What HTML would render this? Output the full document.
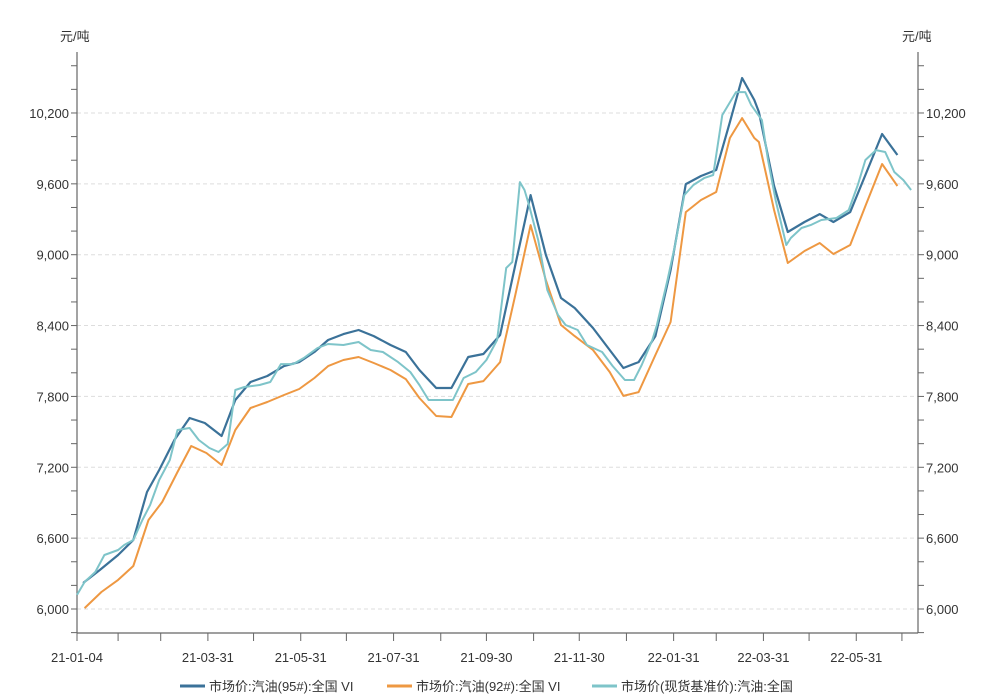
<!DOCTYPE html>
<html><head><meta charset="utf-8"><style>
body{margin:0;background:#fff;}
svg{display:block;font-family:"Liberation Sans","Noto Sans CJK SC",sans-serif;}
</style></head><body>
<svg id="chart" width="1000" height="699">
<text x="60" y="41" font-size="13" fill="#333">元/吨</text>
<text x="902" y="41" font-size="13" fill="#333">元/吨</text>
<g id="grid"></g><g id="axes"></g><g id="series"></g>
<g font-size="13" fill="#333">
<g><line x1="180" y1="686" x2="205" y2="686" stroke="#3b7299" stroke-width="3"/><text x="209" y="691">市场价:汽油(95#):全国 VI</text></g>
<g><line x1="387" y1="686" x2="412" y2="686" stroke="#ee9842" stroke-width="3"/><text x="416" y="691">市场价:汽油(92#):全国 VI</text></g>
<g><line x1="592" y1="686" x2="617" y2="686" stroke="#7ec4c9" stroke-width="3"/><text x="621" y="691">市场价(现货基准价):汽油:全国</text></g>
</g>
</svg>
<script>
const yTicks=[6000,6600,7200,7800,8400,9000,9600,10200];
const xTickLabels=["21-01-04","21-03-31","21-05-31","21-07-31","21-09-30","21-11-30","22-01-31","22-03-31","22-05-31"];
const xTickDays=[0,86,147,208,269,330,392,451,512];
const monthEndDays=[0,27,55,86,116,147,177,208,239,269,300,330,361,392,420,451,481,512,542];
const days95=[4,15,27,37,46,54,64,74,84,95,104,114,125,136,146,156,165,175,185,195,206,216,225,236,246,257,267,278,288,298,308,318,327,339,350,359,369,380,390,400,410,420,429,437,445,448,458,467,478,488,497,508,518,529,539];
const vals95=[6220,6330,6457,6584,6991,7177,7431,7617,7575,7465,7770,7922,7973,8057,8091,8176,8278,8328,8362,8311,8235,8176,8024,7871,7871,8134,8159,8320,8913,9505,9000,8633,8549,8379,8193,8041,8091,8311,8870,9598,9666,9717,10123,10496,10310,10208,9582,9192,9277,9344,9277,9361,9675,10022,9844];
const days92=[5,16,27,37,47,56,66,75,85,95,104,114,125,136,146,156,165,175,185,195,206,216,225,236,246,257,267,278,288,298,308,318,327,339,350,359,369,380,390,400,410,420,429,437,445,448,458,467,478,488,497,508,518,529,539];
const vals92=[6008,6144,6246,6364,6754,6906,7160,7380,7321,7219,7516,7702,7753,7812,7863,7956,8057,8108,8134,8083,8024,7947,7787,7634,7626,7905,7930,8091,8659,9251,8786,8405,8311,8193,8007,7804,7837,8151,8430,9361,9463,9531,9988,10157,9988,9954,9378,8930,9031,9099,9006,9082,9412,9768,9582];
const daysSpot=[0,5,12,18,27,31,37,43,48,54,61,66,74,80,87,93,99,104,110,120,127,134,142,149,158,165,175,185,193,201,211,219,225,231,237,247,254,262,269,276,282,286,291,294,297,303,309,316,321,329,335,345,352,360,366,371,378,381,388,393,399,405,412,418,424,433,439,443,450,454,459,466,469,476,482,489,499,507,513,518,525,531,537,543,548];
const valsSpot=[6119,6229,6313,6457,6500,6542,6584,6754,6881,7092,7262,7516,7533,7431,7363,7329,7397,7854,7880,7897,7922,8074,8074,8125,8210,8244,8235,8261,8193,8176,8091,8007,7897,7770,7770,7770,7956,8007,8108,8278,8887,8938,9615,9548,9421,9124,8701,8489,8405,8362,8235,8176,8057,7939,7939,8066,8278,8405,8786,9082,9505,9590,9649,9675,10183,10377,10377,10267,10140,9802,9463,9082,9141,9226,9251,9294,9311,9378,9590,9802,9886,9870,9700,9632,9548];

const NS="http://www.w3.org/2000/svg";
const L=77,R=918,T=52,B=633;
const x=d=>L+d*1.522;
const y=v=>609-(v-6000)/600*70.86;
function mk(tag,attrs,parent){const e=document.createElementNS(NS,tag);for(const k in attrs)e.setAttribute(k,attrs[k]);parent.appendChild(e);return e;}
const grid=document.getElementById('grid'),axes=document.getElementById('axes'),ser=document.getElementById('series');
yTicks.forEach(v=>{
  const g=mk('line',{x1:L,x2:R,y1:y(v),y2:y(v),stroke:'#ddd','stroke-dasharray':'4,3'},grid);
  
  
  const t1=mk('text',{x:L-8,y:y(v)+5,'text-anchor':'end','font-size':13,fill:'#333'},axes);
  t1.textContent=v.toLocaleString('en-US');
  
  
  const t2=mk('text',{x:R+8,y:y(v)+5,'font-size':13,fill:'#333'},axes);
  t2.textContent=v.toLocaleString('en-US');
  
  
});
for(let v=5800;v<=10600;v+=200){
  mk('line',{x1:L-6,x2:L,y1:y(v),y2:y(v),stroke:'#666'},axes);
  mk('line',{x1:R,x2:R+6,y1:y(v),y2:y(v),stroke:'#666'},axes);
}
const la=mk('line',{x1:L,x2:L,y1:T,y2:B,stroke:'#666','stroke-width':1.2},axes);


const ra=mk('line',{x1:R,x2:R,y1:T,y2:B,stroke:'#666','stroke-width':1.2},axes);


const xa=mk('line',{x1:L,x2:R,y1:B,y2:B,stroke:'#666','stroke-width':1.2},axes);


monthEndDays.forEach(d=>mk('line',{x1:x(d),x2:x(d),y1:B,y2:B+8,stroke:'#666'},axes));
xTickLabels.forEach((lab,i)=>{
  const t=mk('text',{x:x(xTickDays[i]),y:662,'text-anchor':'middle','font-size':13,fill:'#333'},axes);
  t.textContent=lab;
  
  
});
function line(ds,vs,color,w,name){
  const p=mk('polyline',{points:ds.map((d,i)=>x(d).toFixed(1)+','+y(vs[i]).toFixed(1)).join(' '),fill:'none',stroke:color,'stroke-width':w,'stroke-linejoin':'round'},ser);
  
  
}
line(days92,vals92,'#ee9842',2,'series-92-line');
line(days95,vals95,'#3b7299',2.2,'series-95-line');
line(daysSpot,valsSpot,'#7ec4c9',2,'series-spot-line');
</script>
</body></html>
